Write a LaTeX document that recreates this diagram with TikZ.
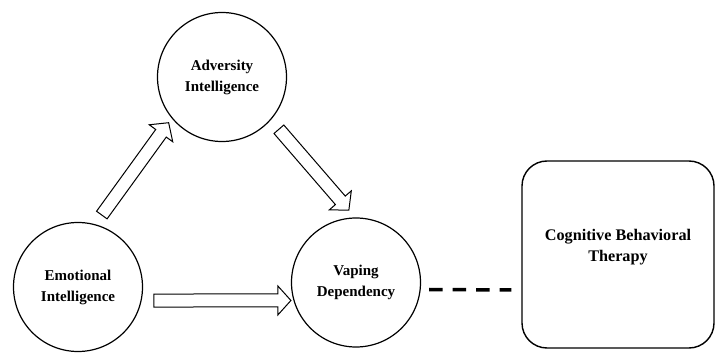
\documentclass[tikz,border=0pt]{standalone}
\usepackage{fontspec}
\setmainfont{Liberation Serif}
\usetikzlibrary{arrows.meta, shapes, calc, positioning}
\tikzset{
	factor/.style = {draw, circle, line width = 1.2pt, minimum size = 129pt, inner sep = 0pt, align = center, font = \fontsize{15}{21}\selectfont\bfseries},
	blockarrow/.style = {draw, single arrow, sloped, line width = 1pt, inner xsep = 0pt, inner ysep = 6pt, single arrow head extend = 8pt, single arrow tip angle = 96, single arrow head indent = 0pt}
}

\begin{document}
\begin{tikzpicture}[x = 1pt, y = 1pt]
		\useasboundingbox (0, 0) rectangle (716, 354);
		\node [factor] (emo) at (78, 67) {Emotional\\Intelligence};
		\node [factor] (adv) at (222, 277) {Adversity\\Intelligence};
		\node [factor] (vap) at (356, 71.5) {Vaping\\Dependency};
		\node [draw, rounded corners = 25pt, line width = 1.4pt, minimum width = 192pt, minimum height = 187pt,
			label = {[align = center, yshift = 7pt, font = \fontsize{16.2}{21}\selectfont\bfseries]center:Cognitive Behavioral\\Therapy}] (cbt) at (618, 99.5) {};

		\path ($(emo) + (72.4:72.9pt)$) -- node[blockarrow, minimum height = 114pt]{} ($(adv) + (221.1:73pt)$);
		\path ($(adv) + (-42.3:74.3pt)$) -- node[blockarrow, minimum height = 107pt]{} ($(vap) + (96.9:75pt)$);
		\path ($(emo) + (-10.5:74.2pt)$) -- node[blockarrow, minimum height = 137pt]{} ($(vap) + (194.8:70.3pt)$);

		\draw [line width = 3.5pt, dash pattern = on 13.5pt off 10pt] ([xshift = 8pt, yshift = -7pt]vap.east) -- ([xshift = -10pt, yshift = -35.5pt]cbt.west);
	\end{tikzpicture}
\end{document}
